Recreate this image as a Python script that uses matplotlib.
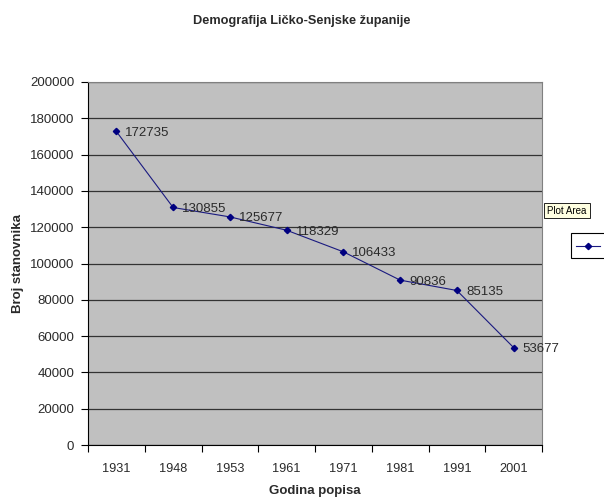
import matplotlib.pyplot as plt
from matplotlib.patches import Rectangle

years = ["1931", "1948", "1953", "1961", "1971", "1981", "1991", "2001"]
population = [172735, 130855, 125677, 118329, 106433, 90836, 85135, 53677]
y_ticks = [0, 20000, 40000, 60000, 80000, 100000, 120000, 140000, 160000, 180000, 200000]

plt.rcParams['font.family'] = ['Liberation Sans', 'DejaVu Sans']
txt = "#2a2a2a"

fig = plt.figure(figsize=(6.04, 4.97), dpi=100)
W, H = 604, 497
ax = fig.add_axes([88 / W, 1 - 445 / H, (542 - 88) / W, (445 - 82) / H])
ax.set_facecolor("#C0C0C0")

x = list(range(len(years)))
ax.plot(x, population, color="#1a1a80", lw=0.8, marker="D", markersize=3.2,
        markerfacecolor="#000080", markeredgecolor="#000080")
for xi, v in zip(x, population):
    ax.annotate(str(v), (xi, v), xytext=(6.5, -1), textcoords="offset points",
                fontsize=9.5, va="center", ha="left", color=txt)

ax.set_xlim(-0.5, len(years) - 0.5)
ax.set_ylim(0, 200000)
ax.set_yticks(y_ticks)
ax.set_yticklabels([str(t) for t in y_ticks], fontsize=9.5, color=txt)
ax.set_xticks([i - 0.5 for i in range(len(years) + 1)])
ax.set_xticklabels([])
ax.set_xticks(x, minor=True)
ax.set_xticklabels(years, minor=True, fontsize=9.2, color=txt)
ax.tick_params(axis="x", which="minor", length=0, pad=13)
ax.tick_params(axis="x", which="major", length=5, direction="out", color="black")
ax.tick_params(axis="y", length=5, direction="out", color="black", pad=5)
ax.grid(axis="y", color="#333333", lw=0.9)
ax.set_axisbelow(True)

for side in ["top", "right"]:
    ax.spines[side].set_color("#808080")
for side in ["left", "bottom"]:
    ax.spines[side].set_color("black")

ax.set_xlabel("Godina popisa", fontsize=9.5, fontweight="bold", labelpad=7, color=txt)
ax.set_ylabel("Broj stanovnika", fontsize=9.5, fontweight="bold", color=txt)
ax.yaxis.set_label_coords((24 - 88) / 454, 0.5)
fig.text(0.5, 1 - 21 / H, "Demografija Ličko-Senjske županije", ha="center",
         va="center", fontsize=9.2, fontweight="bold", color=txt)

# legend box (cut off at right edge) and tooltip
fig.patches.append(Rectangle((571 / W, 1 - 258 / H), 40 / W, 25 / H,
                             transform=fig.transFigure, facecolor="white",
                             edgecolor="black", lw=0.8))
fig.lines.append(plt.Line2D([576 / W, 588 / W, 600 / W], [1 - 245.5 / H] * 3,
                            transform=fig.transFigure, color="#1a1a80", lw=0.8,
                            marker="D", markersize=3.2, markevery=[1],
                            markerfacecolor="#000080", markeredgecolor="#000080"))
fig.text(567 / W, 1 - 210.5 / H, "Plot Area", ha="center", va="center", fontsize=7,
         color="black",
         bbox=dict(boxstyle="square,pad=0.3", facecolor="#FFFFE1", edgecolor="black", lw=0.6))

fig.savefig("out.png", dpi=100)
